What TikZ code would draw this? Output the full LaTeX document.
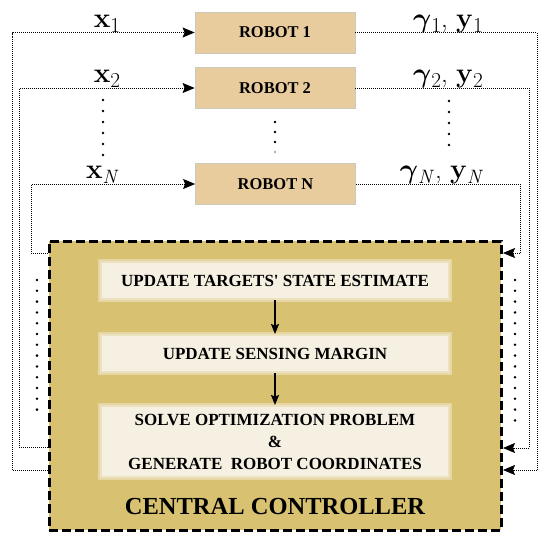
\documentclass[tikz,border=0pt]{standalone}
\usepackage{amsmath,bm}
\usepackage[no-math]{fontspec}
\newfontfamily\tnr{Liberation Serif}
\usetikzlibrary{arrows.meta}
\definecolor{robotc}{RGB}{233,204,158}
\definecolor{robotb}{RGB}{205,200,190}
\definecolor{ctrlc}{RGB}{216,193,112}
\definecolor{boxc}{RGB}{245,240,225}
\newcommand\subd[1]{\raisebox{-4.5pt}{\fontsize{19}{19}\selectfont #1}}
\newcommand\subn{\raisebox{-4.5pt}{\fontsize{16}{16}\selectfont $\mathit{N}$}}
\begin{document}
\begin{tikzpicture}[x=1pt,y=-1pt,
 robotbox/.style={draw=robotb, line width=0.8pt, fill=robotc, minimum width=160pt, minimum height=41pt, inner sep=0pt, font=\tnr\fontsize{16.5}{18}\selectfont\bfseries},
 stepbox/.style={fill=boxc, draw=ctrlc!30!boxc, line width=2pt, preaction={draw=ctrlc!55!boxc, line width=6pt}, minimum width=348pt, inner sep=0pt, align=center, font=\tnr\fontsize{17}{22}\selectfont\bfseries},
 ctrlbox/.style={draw=black, fill=ctrlc, line width=3pt, dash pattern=on 9pt off 4pt, minimum width=452pt, minimum height=289pt, inner sep=0pt},
 conn/.style={line width=0.8pt, dash pattern=on 1pt off 1pt, -{Stealth[length=12pt,width=10pt,inset=2pt]}},
 flow/.style={line width=1.1pt, -{Stealth[length=10pt,width=8pt,inset=1.5pt]}},
 lab/.style={anchor=base, inner sep=0pt, scale=1.12, font=\fontsize{24}{28}\selectfont},
]
\useasboundingbox (0,0) rectangle (538,533);
% central controller
\node[ctrlbox] (cc) at (275,385.5) {};
\node[font=\tnr\fontsize{24.5}{28}\selectfont\bfseries] (cctitle) at (275,507) {CENTRAL CONTROLLER};
\node[stepbox, minimum height=37pt] (s1) at (275,280.5) {UPDATE TARGETS\textquotesingle\ STATE ESTIMATE};
\node[stepbox, minimum height=37pt] (s2) at (275,353.5) {UPDATE SENSING MARGIN};
\node[stepbox, minimum height=71pt] (s3) at (275,441.5) {SOLVE OPTIMIZATION PROBLEM\\ \&\\ GENERATE\ \ ROBOT COORDINATES};
\draw[flow] (s1) -- (s2);
\draw[flow] (s2) -- (s3);
% robots
\node[robotbox] (r1) at (275,32.5) {ROBOT 1};
\node[robotbox] (r2) at (275,88) {ROBOT 2};
\node[robotbox] (rN) at (275.5,184) {ROBOT N};
% left connectors
\coordinate (l1) at (47.5,470);
\coordinate (l2) at (47.5,447);
\coordinate (lN) at (47.5,253);
\draw[conn] (l1) -- ++(-35.5,0) |- (r1.west);
\draw[conn] (l2) -- ++(-28.5,0) |- (r2.west);
\draw[conn] (lN) -- ++(-16.5,0) |- (rN.west);
% right connectors
\coordinate (i1) at (503,470);
\coordinate (i2) at (503,448);
\coordinate (iN) at (503,253);
\draw[conn] (r1.east) -- ++(182,0) |- (i1);
\draw[conn] (r2.east) -- ++(174,0) |- (i2);
\draw[conn] (rN.east) -- ++(164.5,0) |- (iN);
% labels
\node[lab] (lx1) at (107,27) {$\mathbf{x}$\subd{1}};
\node[lab] (lx2) at (107,82) {$\mathbf{x}$\subd{2}};
\node[lab] (lxN) at (103,178) {$\mathbf{x}$\subn};
\node[lab] (ly1) at (448,27) {$\boldsymbol{\gamma}$\subd{1}, $\mathbf{y}$\subd{1}};
\node[lab] (ly2) at (448,82) {$\boldsymbol{\gamma}$\subd{2}, $\mathbf{y}$\subd{2}};
\node[lab] (lyN) at (442,178) {$\boldsymbol{\gamma}$\subn, $\mathbf{y}$\subn};
% vertical dots
\foreach \y in {100,111,122,133,144,155} \fill (103,\y) circle (1.4pt);
\foreach \y in {122,132,142} \fill (275,\y) circle (1.4pt);
\fill[black!40] (275,152) circle (1.2pt);
\foreach \y in {101,112,123,134,145} \fill (449,\y) circle (1.4pt);
\foreach \k in {0,...,12} \fill (37,280+\k*10.8) circle (1.4pt);
\foreach \k in {0,...,13} \fill (515,280+\k*10.8) circle (1.4pt);
\end{tikzpicture}
\end{document}
